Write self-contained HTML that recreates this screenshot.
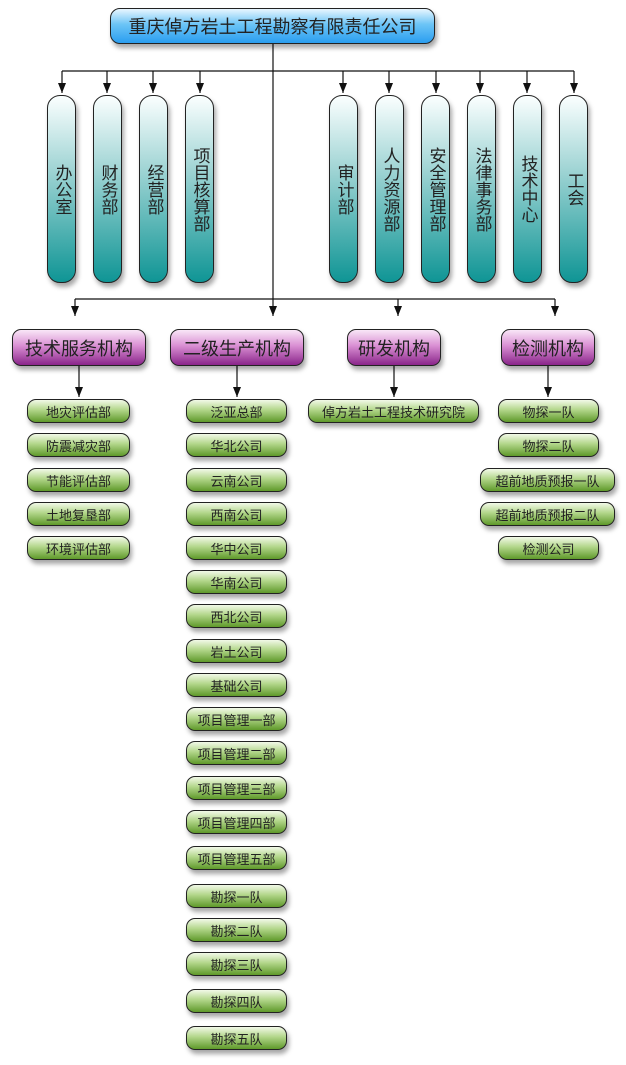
<!DOCTYPE html>
<html><head><meta charset="utf-8"><style>
body{margin:0;width:626px;height:1065px;background:#fff;position:relative;overflow:hidden;font-family:"Liberation Sans","Noto Sans CJK SC",sans-serif;}
.b{position:absolute;box-sizing:border-box;border:1.5px solid #222;display:flex;align-items:center;justify-content:center;color:#222;box-shadow:2px 4px 5px rgba(0,0,0,0.35);}
.top{left:110px;top:8px;width:325px;height:36px;border-radius:10px;font-size:18px;background:linear-gradient(#e8f6ff,#6cc4f6 45%,#2a9ef0);}
.p{top:95px;width:29px;height:188px;border-radius:13px;font-size:17px;line-height:22px;text-align:center;writing-mode:vertical-rl;text-orientation:upright;background:linear-gradient(#fbffff,#9fd4d4 40%,#0f9595);}
.m{top:329px;height:37px;border-radius:9px;font-size:18px;background:linear-gradient(#f9e7f7,#d98fd3 45%,#8a258a);}
.g{height:24px;border-radius:9px;font-size:13px;background:linear-gradient(#f2f9e8,#b2d68a 45%,#5f9a2a);}
</style></head><body>
<svg width="626" height="1065" style="position:absolute;left:0;top:0" xmlns="http://www.w3.org/2000/svg">
<defs><marker id="a" markerWidth="8" markerHeight="10" refX="4" refY="9" orient="auto" markerUnits="userSpaceOnUse"><path d="M0,0 L8,0 L4,10 z" fill="#111" transform="rotate(-90 4 5) translate(0,0)"/></marker>
<marker id="d" markerWidth="8" markerHeight="10" refX="4" refY="10" orient="0" markerUnits="userSpaceOnUse"><path d="M0,0 L8,0 L4,10 z" fill="#111"/></marker></defs>
<g stroke="#111" stroke-width="1.2" fill="none">
<line x1="273" y1="44" x2="273" y2="316" marker-end="url(#d)"/>
<line x1="62" y1="71" x2="574" y2="71"/>
<line x1="62" y1="71" x2="62" y2="93" marker-end="url(#d)"/>
<line x1="107" y1="71" x2="107" y2="93" marker-end="url(#d)"/>
<line x1="153" y1="71" x2="153" y2="93" marker-end="url(#d)"/>
<line x1="200" y1="71" x2="200" y2="93" marker-end="url(#d)"/>
<line x1="343" y1="71" x2="343" y2="93" marker-end="url(#d)"/>
<line x1="389" y1="71" x2="389" y2="93" marker-end="url(#d)"/>
<line x1="436" y1="71" x2="436" y2="93" marker-end="url(#d)"/>
<line x1="480" y1="71" x2="480" y2="93" marker-end="url(#d)"/>
<line x1="527" y1="71" x2="527" y2="93" marker-end="url(#d)"/>
<line x1="574" y1="71" x2="574" y2="93" marker-end="url(#d)"/>
<line x1="75" y1="299" x2="555" y2="299"/>
<line x1="75" y1="299" x2="75" y2="316" marker-end="url(#d)"/>
<line x1="398" y1="299" x2="398" y2="316" marker-end="url(#d)"/>
<line x1="555" y1="299" x2="555" y2="316" marker-end="url(#d)"/>
<line x1="79" y1="366" x2="79" y2="397" marker-end="url(#d)"/>
<line x1="237" y1="366" x2="237" y2="397" marker-end="url(#d)"/>
<line x1="394" y1="366" x2="394" y2="397" marker-end="url(#d)"/>
<line x1="548" y1="366" x2="548" y2="397" marker-end="url(#d)"/>
</g></svg>
<div class="b top">重庆倬方岩土工程勘察有限责任公司</div>
<div class="b p" style="left:47px">办公室</div>
<div class="b p" style="left:93px">财务部</div>
<div class="b p" style="left:139px">经营部</div>
<div class="b p" style="left:185px">项目核算部</div>
<div class="b p" style="left:329px">审计部</div>
<div class="b p" style="left:375px">人力资源部</div>
<div class="b p" style="left:421px">安全管理部</div>
<div class="b p" style="left:467px">法律事务部</div>
<div class="b p" style="left:513px">技术中心</div>
<div class="b p" style="left:559px">工会</div>
<div class="b m" style="left:12px;width:134px">技术服务机构</div>
<div class="b m" style="left:170px;width:134px">二级生产机构</div>
<div class="b m" style="left:347px;width:94px">研发机构</div>
<div class="b m" style="left:501px;width:94px">检测机构</div>
<div class="b g" style="left:27px;top:399px;width:103px">地灾评估部</div>
<div class="b g" style="left:27px;top:433px;width:103px">防震减灾部</div>
<div class="b g" style="left:27px;top:468px;width:103px">节能评估部</div>
<div class="b g" style="left:27px;top:502px;width:103px">土地复垦部</div>
<div class="b g" style="left:27px;top:536px;width:103px">环境评估部</div>
<div class="b g" style="left:186px;top:399px;width:101px">泛亚总部</div>
<div class="b g" style="left:186px;top:433px;width:101px">华北公司</div>
<div class="b g" style="left:186px;top:468px;width:101px">云南公司</div>
<div class="b g" style="left:186px;top:502px;width:101px">西南公司</div>
<div class="b g" style="left:186px;top:536px;width:101px">华中公司</div>
<div class="b g" style="left:186px;top:570px;width:101px">华南公司</div>
<div class="b g" style="left:186px;top:604px;width:101px">西北公司</div>
<div class="b g" style="left:186px;top:639px;width:101px">岩土公司</div>
<div class="b g" style="left:186px;top:673px;width:101px">基础公司</div>
<div class="b g" style="left:186px;top:707px;width:101px">项目管理一部</div>
<div class="b g" style="left:186px;top:741px;width:101px">项目管理二部</div>
<div class="b g" style="left:186px;top:776px;width:101px">项目管理三部</div>
<div class="b g" style="left:186px;top:810px;width:101px">项目管理四部</div>
<div class="b g" style="left:186px;top:846px;width:101px">项目管理五部</div>
<div class="b g" style="left:186px;top:884px;width:101px">勘探一队</div>
<div class="b g" style="left:186px;top:918px;width:101px">勘探二队</div>
<div class="b g" style="left:186px;top:952px;width:101px">勘探三队</div>
<div class="b g" style="left:186px;top:989px;width:101px">勘探四队</div>
<div class="b g" style="left:186px;top:1026px;width:101px">勘探五队</div>
<div class="b g" style="left:308px;top:399px;width:171px">倬方岩土工程技术研究院</div>
<div class="b g" style="left:498px;top:399px;width:101px">物探一队</div>
<div class="b g" style="left:498px;top:433px;width:101px">物探二队</div>
<div class="b g" style="left:480px;top:468px;width:135px">超前地质预报一队</div>
<div class="b g" style="left:480px;top:502px;width:135px">超前地质预报二队</div>
<div class="b g" style="left:498px;top:536px;width:101px">检测公司</div>
</body></html>
